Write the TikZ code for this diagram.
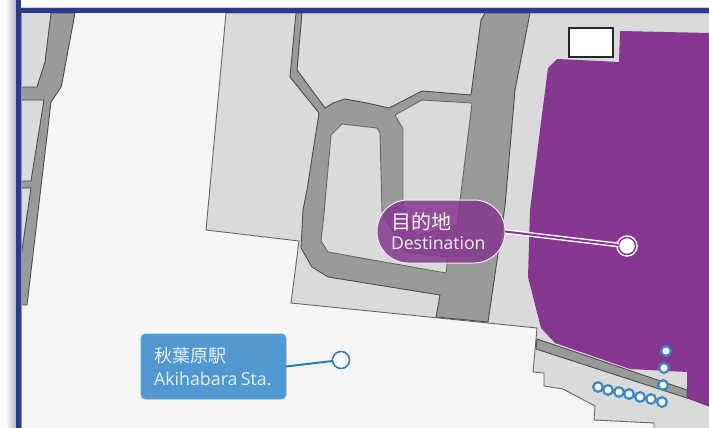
\documentclass[tikz,border=0pt]{standalone}
\usepackage{fontspec}
\setmainfont{Open Sans}
\newfontfamily\cjk{Noto Sans CJK JP}
\definecolor{framec}{HTML}{2C3A8E}
\definecolor{paper}{HTML}{F5F5F5}
\definecolor{blockc}{HTML}{DADADA}
\definecolor{roadc}{HTML}{9A9A9A}
\definecolor{edgec}{HTML}{4D4D4D}
\definecolor{purp}{HTML}{85368F}
\definecolor{stn}{HTML}{5198D1}
\definecolor{stnline}{HTML}{2F7AB5}
\definecolor{dotc}{HTML}{3B87C4}
\tikzset{
  blockshape/.style={fill=blockc,draw=edgec!85,line width=.9pt,line join=miter},
  roadshape/.style={fill=roadc,draw=edgec,line width=.9pt,line join=miter},
  stopdot/.style={circle,draw=dotc,fill=white,line width=2.2pt,minimum size=9.6pt,inner sep=0pt,outer sep=0pt},
  deststyle/.style={rectangle,rounded corners=31pt,draw=white!90!purp,line width=1pt,fill=purp,fill opacity=.85,text opacity=1,text=white!92!purp,
    text width=100pt,inner xsep=14pt,inner ysep=0pt,minimum height=63pt,align=left,outer sep=0pt},
  stnstyle/.style={rectangle,rounded corners=4pt,draw=stn!85!white,line width=.6pt,fill=stn,text=white!85!stn,
    text width=119pt,inner xsep=13pt,inner ysep=0pt,minimum height=65pt,align=left,outer sep=0pt}
}
\begin{document}
\begin{tikzpicture}[x=1pt,y=-1pt]
\useasboundingbox (0,0) rectangle (709,428);
\fill[white] (0,0) rectangle (709,428);
% shadow
\shade[left color=white,right color=black!28] (5,0) rectangle (16,428);
% paper
\fill[paper] (21,13) rectangle (709,428);
% left block and road
\fill[blockc] (21,13) -- (75,13) -- (62,83) -- (51,102) -- (27,305) -- (21,305) -- cycle;
\draw[roadshape] (51,13) -- (45,62) -- (37,87) -- (21,87) -- (21,100) -- (44,100) -- (31,181) -- (21,181) -- (21,188) -- (31,188) -- (21,257) -- (21,305) -- (27,305) -- (51,102) -- (61,87) -- (62,83) -- (75,13) -- cycle;
% main block
\draw[blockshape] (226,13) -- (206,230) -- (299,241) -- (291,303) -- (537,328) -- (533,372) -- (544,373) -- (544,386) -- (563,389) -- (595,406) -- (594,420) -- (654,423) -- (654,429) -- (710,429) -- (710,13) -- cycle;
% roads
\draw[roadshape] (296,13) -- (290,77) -- (319,113) -- (307,190) -- (303,210) -- (301,248) -- (312,267) -- (328,277) -- (440,295) -- (436,317) -- (488,322) -- (505,206) -- (515,90) -- (530,13) -- (485,13) -- (481,20) -- (471,95) -- (422,91) -- (389,108) -- (367,103) -- (345,99) -- (333,103) -- (325,108) -- (297,70) -- (302,13) -- cycle;
% blocks enclosed by the roads
\draw[blockshape] (395,115) -- (422,100) -- (472,103) -- (457,225) -- (416,236) -- (403,205) -- (403,129) -- cycle;
\draw[blockshape] (342,124) -- (377,128) -- (380,133) -- (382,213) -- (405,252) -- (448,257) -- (446,273) -- (328,252) -- (321,241) -- (324,214) -- (331,135) -- cycle;
% destination area
\fill[purp] (620,31) -- (710,33) -- (710,407) -- (687,398) -- (687,372) -- (630,369) -- (555,343) -- (541,328) -- (528,277) -- (530,210) -- (540,130) -- (548,68) -- (557,59) -- (619,62) -- cycle;
% lower road
\draw[roadshape] (537,339) -- (687,390) -- (687,398) -- (536,349) -- cycle;
\draw[edgec,line width=.9pt] (687,398) -- (710,406);
% building
\draw[fill=white,draw=black!85,line width=1.2pt] (569,28) rectangle (613,57);
% frame
\fill[framec!55!white] (21,13) rectangle (21.8,428);
\fill[framec] (16,0) rectangle (21,428);
\fill[framec] (16,8) rectangle (709,13);
\fill[framec!25!white] (21,7.3) rectangle (709,8);
% stops
\node[stopdot] (s1) at (666,351) {};
\node[stopdot] (s2) at (664,368) {};
\node[stopdot] (s3) at (663,385) {};
\node[stopdot] (s4) at (598,387) {};
\node[stopdot] (s5) at (608,390) {};
\node[stopdot] (s6) at (619,392) {};
\node[stopdot] (s7) at (629,394) {};
\node[stopdot] (s8) at (640,397) {};
\node[stopdot] (s9) at (651,399) {};
\node[stopdot] (s10) at (662,402) {};
% labels
\node[deststyle,anchor=center] (dest) at (441,231.5) {\fontsize{20}{23}\selectfont\cjk \raisebox{-1.5pt}{目的地}\\[4.5pt]\fontsize{17.6}{21}\selectfont\rmfamily Destination};
\node[circle,draw=white,double=purp,double distance=1.5pt,line width=1.5pt,fill=white,minimum size=17pt,inner sep=0pt,outer sep=0pt] (goal) at (627,246) {};
\draw[draw=white,double=purp,double distance=2pt,line width=1.4pt] (dest.east) -- (goal);
\node[stnstyle,anchor=center] (aki) at (213.5,366.5) {\fontsize{18}{24}\selectfont\cjk \raisebox{-2.5pt}{秋葉原駅}\\[7pt]\fontsize{17.8}{24}\selectfont\rmfamily \raisebox{-1.5pt}{Akihabara Sta.}};
\node[circle,draw=stnline,fill=white,line width=1.5pt,minimum size=17pt,inner sep=0pt,outer sep=0pt] (akidot) at (341,360) {};
\draw[stnline,line width=2pt] (aki.east) -- (akidot);
\end{tikzpicture}
\end{document}
